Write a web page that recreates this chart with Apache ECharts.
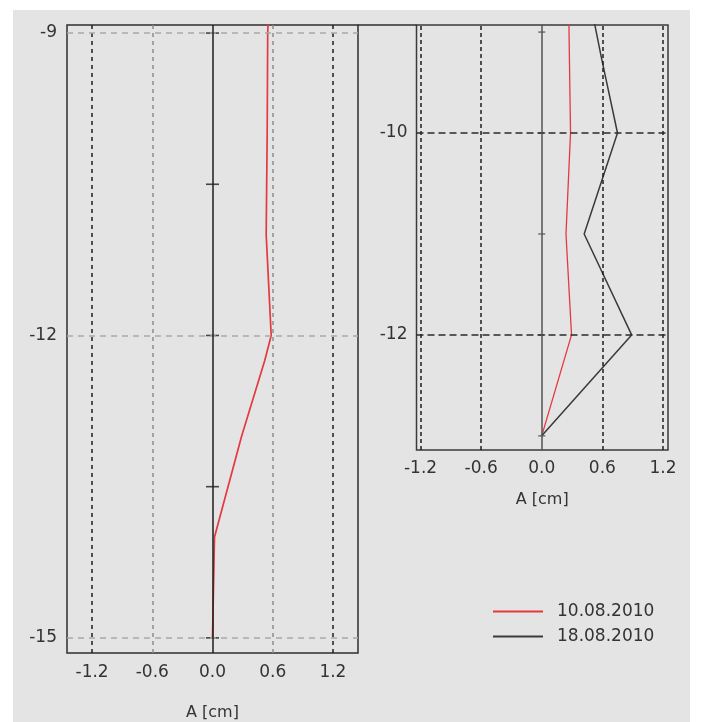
<!DOCTYPE html>
<html>
<head>
<meta charset="utf-8">
<script src="https://cdn.jsdelivr.net/npm/echarts@6/dist/echarts.min.js"></script>
<style>
  html, body { margin: 0; padding: 0; background: #ffffff; }
  #bg { position: absolute; left: 13px; top: 10px; width: 677px; height: 712px; background: #e4e4e4; }
  #chart { position: absolute; left: 0; top: 0; width: 701px; height: 722px; }
</style>
</head>
<body>
<div id="bg"></div>
<div id="chart"></div>
<script>
// ---- data ----
const amplitudeTicks = [-1.2, -0.6, 0, 0.6, 1.2];
const leftDepthLabels = [-9, -12, -15];
const leftZeroTicks = [-9, -10.5, -12, -13.5, -15];
const rightDepthLabels = [-10, -12];
const rightZeroTicks = [-9, -10, -11, -12, -13];

const seriesNames = ['10.08.2010', '18.08.2010'];

const leftDepths = [-8.75, -9, -10, -11, -12, -12.25, -13, -14, -15];
const leftRed    = [0.56, 0.55, 0.545, 0.535, 0.585, 0.52, 0.29, 0.02, 0.0];

const rightRedDepths = [-8.75, -9, -10, -11, -12, -13];
const rightRed       = [0.27, 0.27, 0.285, 0.24, 0.295, 0.0];

const rightBlackDepths = [-8.75, -9.25, -10, -11, -12, -13];
const rightBlack       = [0.49, 0.59, 0.75, 0.42, 0.89, 0.0];

// ---- layout / style ----
const FONT = 'DejaVu Sans';
const TXT = '#333333';
const RED = '#e4393f';
const DARK = '#3a3a3a';
const L = { left: 67, top: 25, width: 291, height: 628 };
const R = { left: 416.5, top: 25, width: 251.5, height: 425 };

const pairs = (xs, ys) => ys.map((y, i) => [xs[i], y]);

function vLine(v, color, dash) {
  return { xAxis: v, lineStyle: { color: color, width: 1.5, type: dash } };
}
function hLine(v, color, dash) {
  return { yAxis: v, lineStyle: { color: color, width: 1.5, type: dash } };
}

const leftGridLines = []
  .concat(amplitudeTicks.filter(v => v !== 0).map(v =>
    Math.abs(v) > 1 ? vLine(v, '#1e1e1e', [4, 4]) : vLine(v, '#8c8c8c', [4, 4])))
  .concat(leftDepthLabels.map(v => hLine(v, '#a8a8a8', [6, 5])))
  .concat([vLine(0, '#1e1e1e', 'solid')]);

const rightGridLines = []
  .concat(amplitudeTicks.filter(v => v !== 0).map(v => vLine(v, '#1e1e1e', [4, 3])))
  .concat(rightDepthLabels.map(v => hLine(v, '#2a2a2a', [7, 4])))
  .concat([vLine(0, '#555555', 'solid')]);

const axisLabelStyle = { fontFamily: FONT, fontSize: 17, color: TXT };

const option = {
  animation: false,
  backgroundColor: 'transparent',
  grid: [
    Object.assign({ show: true, borderColor: '#2e2e2e', borderWidth: 1.5, backgroundColor: 'transparent',
      containLabel: false, outerBoundsMode: 'none' }, L),
    Object.assign({ show: true, borderColor: '#3a3a3a', borderWidth: 1.5, backgroundColor: 'transparent',
      containLabel: false, outerBoundsMode: 'none' }, R)
  ],
  xAxis: [
    {
      gridIndex: 0, type: 'value', min: -1.45, max: 1.45,
      axisLine: { show: false }, axisTick: { show: false }, splitLine: { show: false },
      axisLabel: Object.assign({ customValues: amplitudeTicks, formatter: v => v.toFixed(1), margin: 11 }, axisLabelStyle),
      name: 'A [cm]', nameLocation: 'middle', nameGap: 52,
      nameTextStyle: { fontFamily: FONT, fontSize: 16, color: TXT }
    },
    {
      gridIndex: 1, type: 'value', min: -1.24, max: 1.25,
      axisLine: { show: false }, axisTick: { show: false }, splitLine: { show: false },
      axisLabel: Object.assign({ customValues: amplitudeTicks, formatter: v => v.toFixed(1), margin: 10 }, axisLabelStyle),
      name: 'A [cm]', nameLocation: 'middle', nameGap: 42,
      nameTextStyle: { fontFamily: FONT, fontSize: 16, color: TXT }
    }
  ],
  yAxis: [
    {
      gridIndex: 0, type: 'value', min: -15.15, max: -8.92,
      axisLine: { show: false }, axisTick: { show: false }, splitLine: { show: false },
      axisLabel: Object.assign({ customValues: leftDepthLabels, formatter: v => String(v), margin: 10 }, axisLabelStyle)
    },
    {
      gridIndex: 1, type: 'value', min: -13.14, max: -8.93,
      axisLine: { show: false }, axisTick: { show: false }, splitLine: { show: false },
      axisLabel: Object.assign({ customValues: rightDepthLabels, formatter: v => String(v), margin: 9 }, axisLabelStyle)
    }
  ],
  legend: {
    orient: 'vertical', left: 488, top: 598,
    icon: 'rect', itemWidth: 50, itemHeight: 2, itemGap: 8,
    data: seriesNames,
    textStyle: { fontFamily: FONT, fontSize: 17, color: TXT, padding: [0, 0, 0, 9] }
  },
  graphic: [
    { type: 'line', shape: { x1: L.left + L.width, y1: L.top, x2: R.left, y2: R.top },
      style: { stroke: '#2e2e2e', lineWidth: 1.5 }, silent: true }
  ],
  series: [
    {
      name: 'leftFrame', type: 'scatter', xAxisIndex: 0, yAxisIndex: 0, z: 1,
      symbol: 'rect', symbolSize: [13, 1.6], itemStyle: { color: '#1e1e1e' }, silent: true,
      data: leftZeroTicks.map(d => [0, d]),
      markLine: { silent: true, symbol: 'none', label: { show: false }, data: leftGridLines }
    },
    {
      name: 'rightFrame', type: 'scatter', xAxisIndex: 1, yAxisIndex: 1, z: 1,
      symbol: 'rect', symbolSize: [7, 1.5], itemStyle: { color: '#555555' }, silent: true,
      data: rightZeroTicks.map(d => [0, d]),
      markLine: { silent: true, symbol: 'none', label: { show: false }, data: rightGridLines }
    },
    {
      name: seriesNames[0], type: 'line', xAxisIndex: 0, yAxisIndex: 0, z: 3,
      symbol: 'none', color: RED, lineStyle: { color: RED, width: 1.7 },
      data: pairs(leftRed, leftDepths)
    },
    {
      name: seriesNames[0], type: 'line', xAxisIndex: 1, yAxisIndex: 1, z: 3,
      symbol: 'none', color: RED, lineStyle: { color: RED, width: 1.3 },
      data: pairs(rightRed, rightRedDepths)
    },
    {
      name: seriesNames[1], type: 'line', xAxisIndex: 1, yAxisIndex: 1, z: 3,
      symbol: 'none', color: DARK, lineStyle: { color: DARK, width: 1.5 },
      data: pairs(rightBlack, rightBlackDepths)
    }
  ]
};

const chart = echarts.init(document.getElementById('chart'), null, { renderer: 'canvas' });
chart.setOption(option);
</script>
</body>
</html>
